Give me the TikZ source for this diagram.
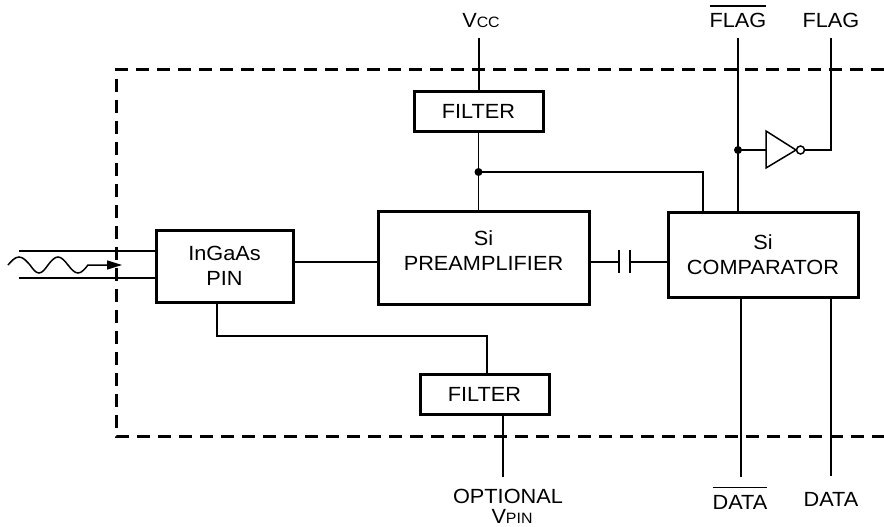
\documentclass[tikz,border=0pt]{standalone}
\usepackage{fontspec}
\setmainfont[FakeStretch=1.06]{Liberation Sans}
\usetikzlibrary{arrows.meta}
\usetikzlibrary{calc}

\tikzset{
  blk/.style={draw, line width=3pt, inner sep=0pt, align=center},
  wire/.style={line width=1.5pt},
  jdot/.style={circle, fill, inner sep=0pt, minimum size=8pt},
  lbl/.style={anchor=base, inner sep=0pt},
}
\newcommand{\barred}[1]{\setbox0=\hbox{#1}\rlap{\rule[21pt]{\wd0}{1.5pt}}\box0}
\newcommand{\subsc}[1]{{\fontsize{15}{17}\selectfont #1}}

\begin{document}
\begin{tikzpicture}[x=1pt, y=-1pt, font=\fontsize{20.5}{25}\selectfont]
\useasboundingbox (0,0) rectangle (884,527);
% module outline
\draw[line width=3pt, dash pattern=on 13pt off 8pt] (884,70) -- (116,70) -- (116,436) -- (884,436);

% blocks
\node[blk, minimum width=137pt, minimum height=72pt] (pin) at (224.5,266) {InGaAs\\PIN};
\node[blk, minimum width=211pt, minimum height=93pt] (pre) at (483.5,257.5) {};
\node[align=center] (pretxt) at (483.5,250.5) {Si\\PREAMPLIFIER};
\node[blk, minimum width=190pt, minimum height=85pt] (comp) at (763,254.5) {Si\\COMPARATOR};
\node[blk, minimum width=129pt, minimum height=39pt] (filtA) at (478.5,111.5) {FILTER};
\node[blk, minimum width=129pt, minimum height=40pt] (filtB) at (484.5,394) {FILTER};

% pins
\node[lbl] (vcc) at (481,28) {V\subsc{CC}};
\node[lbl] (nflag) at (738,28) {\barred{FLAG}};
\node[lbl] (flag) at (831,28) {FLAG};
\node[lbl] (opt) at (508,503) {OPTIONAL};
\node[lbl] (vpin) at (512,523) {V\subsc{PIN}};
\node[lbl] (ndata) at (740,509) {\barred{DATA}};
\node[lbl] (data) at (831,506) {DATA};

% optical input
\coordinate (fib1) at (19,251);
\coordinate (fib2) at (19,278);
\draw[wire] (fib1) -- (fib1 -| pin.west);
\draw[wire] (fib2) -- (fib2 -| pin.west);
\draw[wire, -{Triangle[length=15pt,width=9pt]}] (8,265) sin (19,257) cos (30,265) sin (39,273) cos (48,265)
  sin (58,257) cos (68,265) sin (78,273) cos (88,265) -- (122,265);

% supply
\coordinate (vccpin) at (479,38);
\draw[wire] (vccpin) -- (vccpin |- filtA.north);
\draw[wire] (filtA.south) -- (filtA.south |- pre.north);
\coordinate (jA) at (478.5,172);
\draw[wire] (jA) -| ([xshift=-60pt]comp.north);
\node[jdot] (djA) at (jA) {};

% signal path
\draw[wire] ([yshift=4pt]pin.east) -- ([yshift=4pt]pin.east -| pre.west);
\coordinate (capl) at (619,262);
\coordinate (capr) at (630,262);
\draw[wire] (capl -| pre.east) -- (capl);
\draw[wire] (capr) -- (capr -| comp.west);
\draw[wire] ($(capl)+(0,-12)$) -- ($(capl)+(0,11)$);
\draw[wire] ($(capr)+(0,-12)$) -- ($(capr)+(0,11)$);

% flag outputs
\coordinate (nfpin) at (738,38);
\draw[wire] (nfpin) -- (nfpin |- comp.north);
\coordinate (jF) at (738,150);
\node[jdot] (djF) at (jF) {};
\coordinate (invin) at (766,150);
\coordinate (invtip) at (796,150);
\draw[wire] (jF) -- (invin);
\draw[wire, line join=miter] ($(invin)+(0,-19)$) -- (invtip) -- ($(invin)+(0,18)$) -- cycle;
\node[circle, draw, wire, minimum size=8pt, inner sep=0pt] (bub) at (800.5,150) {};
\coordinate (fpin) at (831,38);
\draw[wire] (bub.east) -| (fpin);

% data outputs
\coordinate (ndpin) at (741,477);
\coordinate (dpin) at (831,476);
\draw[wire] (ndpin |- comp.south) -- (ndpin);
\draw[wire] (dpin |- comp.south) -- (dpin);

% detector bias
\coordinate (bend) at (217,336);
\draw[wire] (pin.south -| bend) -- (bend) -| ([xshift=2.5pt]filtB.north);
\coordinate (vpinpin) at (503,477);
\draw[wire] (vpinpin |- filtB.south) -- (vpinpin);
\end{tikzpicture}
\end{document}
